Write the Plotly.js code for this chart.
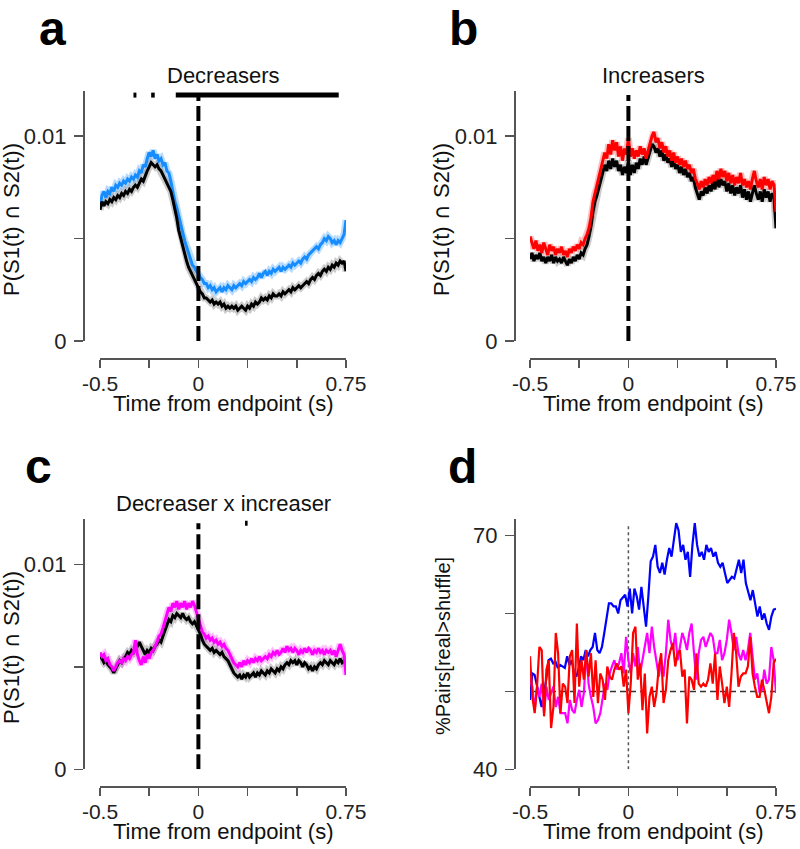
<!DOCTYPE html>
<html>
<head>
<meta charset="utf-8">
<script src="https://cdn.plot.ly/plotly-3.0.1.min.js"></script>
<style>
  body { margin: 0; background: #fff; }
  #fig { width: 800px; height: 849px; }
</style>
</head>
<body>
<div id="fig"></div>
<script>

/////////////////////   Data   /////////////////////

// panel a : decreasers, real (blue) vs shuffle (black)
var blueA = [0.0066,0.0071,0.0073,0.0070,0.0073,0.0072,0.0075,0.0073,0.0076,0.0075,
  0.0077,0.0076,0.0078,0.0077,0.0079,0.0078,0.0080,0.0079,0.0081,0.0080,
  0.0083,0.0082,0.0086,0.0085,0.0089,0.0092,0.0090,0.0093,0.0089,0.0091,
  0.0088,0.0089,0.0086,0.0087,0.0083,0.0082,0.0078,0.0073,0.0068,0.0065,
  0.0061,0.0057,0.0052,0.0049,0.0046,0.0043,0.0040,0.0037,0.0036,0.0034,
  0.0033,0.0031,0.0030,0.0028,0.0028,0.0026,0.0027,0.0025,0.0026,0.0024,
  0.0025,0.0026,0.0024,0.0026,0.0025,0.0027,0.0026,0.0025,0.0027,0.0026,
  0.0027,0.0028,0.0027,0.0029,0.0028,0.0029,0.0030,0.0029,0.0031,0.0030,
  0.0031,0.0033,0.0031,0.0033,0.0034,0.0032,0.0034,0.0033,0.0035,0.0034,
  0.0035,0.0036,0.0034,0.0036,0.0035,0.0036,0.0037,0.0036,0.0038,0.0037,
  0.0038,0.0039,0.0038,0.0040,0.0041,0.0040,0.0042,0.0043,0.0044,0.0045,
  0.0046,0.0045,0.0047,0.0048,0.0050,0.0049,0.0051,0.0050,0.0048,0.0049,
  0.0047,0.0049,0.0048,0.0050,0.0052,0.0059];
var blackA = [0.0064,0.0068,0.0066,0.0068,0.0067,0.0069,0.0068,0.0070,0.0069,0.0071,
  0.0070,0.0072,0.0071,0.0073,0.0072,0.0074,0.0073,0.0075,0.0076,0.0075,
  0.0077,0.0079,0.0078,0.0081,0.0083,0.0085,0.0087,0.0086,0.0085,0.0086,
  0.0084,0.0083,0.0081,0.0079,0.0077,0.0075,0.0073,0.0069,0.0065,0.0060,
  0.0054,0.0050,0.0046,0.0042,0.0039,0.0036,0.0034,0.0032,0.0030,0.0028,
  0.0026,0.0024,0.0023,0.0021,0.0021,0.0020,0.0019,0.0020,0.0018,0.0019,
  0.0018,0.0019,0.0017,0.0018,0.0016,0.0017,0.0016,0.0017,0.0016,0.0017,
  0.0015,0.0016,0.0017,0.0016,0.0015,0.0017,0.0016,0.0018,0.0017,0.0019,
  0.0018,0.0019,0.0021,0.0020,0.0021,0.0020,0.0022,0.0021,0.0023,0.0022,
  0.0022,0.0023,0.0022,0.0024,0.0023,0.0024,0.0025,0.0024,0.0026,0.0025,
  0.0026,0.0027,0.0026,0.0027,0.0028,0.0029,0.0028,0.0030,0.0031,0.0030,
  0.0032,0.0033,0.0032,0.0034,0.0035,0.0034,0.0036,0.0035,0.0037,0.0036,
  0.0038,0.0037,0.0039,0.0038,0.0039,0.0034];

// panel b : increasers
var redB = [0.0051,0.0048,0.0045,0.0049,0.0044,0.0047,0.0043,0.0048,0.0045,0.0042,
  0.0047,0.0044,0.0046,0.0042,0.0045,0.0043,0.0046,0.0042,0.0044,0.0041,
  0.0045,0.0043,0.0046,0.0044,0.0047,0.0045,0.0048,0.0047,0.0050,0.0052,
  0.0055,0.0060,0.0068,0.0072,0.0075,0.0079,0.0083,0.0087,0.0092,0.0089,
  0.0096,0.0091,0.0098,0.0093,0.0097,0.0090,0.0095,0.0088,0.0094,0.0091,
  0.0099,0.0090,0.0094,0.0089,0.0093,0.0090,0.0095,0.0091,0.0094,0.0089,
  0.0093,0.0097,0.0100,0.0102,0.0097,0.0099,0.0094,0.0097,0.0092,0.0095,
  0.0090,0.0093,0.0088,0.0092,0.0087,0.0090,0.0086,0.0089,0.0085,0.0088,
  0.0084,0.0086,0.0082,0.0084,0.0079,0.0077,0.0074,0.0078,0.0075,0.0079,
  0.0076,0.0080,0.0077,0.0081,0.0078,0.0083,0.0079,0.0084,0.0080,0.0083,
  0.0078,0.0082,0.0077,0.0081,0.0076,0.0080,0.0077,0.0082,0.0076,0.0079,
  0.0075,0.0078,0.0074,0.0079,0.0083,0.0078,0.0075,0.0079,0.0074,0.0080,
  0.0076,0.0079,0.0074,0.0078,0.0076,0.0063];
var blackB = [0.0040,0.0043,0.0039,0.0042,0.0040,0.0043,0.0039,0.0041,0.0038,0.0041,
  0.0039,0.0042,0.0038,0.0041,0.0039,0.0040,0.0038,0.0041,0.0039,0.0037,
  0.0040,0.0038,0.0041,0.0039,0.0042,0.0040,0.0043,0.0042,0.0045,0.0047,
  0.0051,0.0056,0.0063,0.0068,0.0071,0.0075,0.0078,0.0082,0.0086,0.0083,
  0.0088,0.0084,0.0089,0.0085,0.0088,0.0083,0.0086,0.0081,0.0085,0.0082,
  0.0088,0.0081,0.0086,0.0082,0.0087,0.0084,0.0089,0.0086,0.0090,0.0086,
  0.0089,0.0093,0.0096,0.0095,0.0092,0.0094,0.0090,0.0093,0.0088,0.0091,
  0.0087,0.0089,0.0085,0.0088,0.0084,0.0086,0.0082,0.0085,0.0081,0.0084,
  0.0080,0.0082,0.0078,0.0080,0.0075,0.0072,0.0069,0.0073,0.0071,0.0075,
  0.0072,0.0076,0.0073,0.0078,0.0074,0.0080,0.0075,0.0079,0.0076,0.0078,
  0.0073,0.0077,0.0072,0.0076,0.0071,0.0075,0.0072,0.0076,0.0070,0.0074,
  0.0069,0.0073,0.0068,0.0072,0.0076,0.0072,0.0069,0.0073,0.0068,0.0074,
  0.0070,0.0073,0.0068,0.0072,0.0070,0.0055];

// panel c : decreaser x increaser
var magentaC = [0.0057,0.0055,0.0056,0.0053,0.0054,0.0051,0.0050,0.0048,0.0050,0.0052,
  0.0053,0.0052,0.0054,0.0053,0.0055,0.0054,0.0056,0.0057,0.0063,0.0056,
  0.0053,0.0051,0.0055,0.0052,0.0056,0.0054,0.0057,0.0058,0.0060,0.0062,
  0.0065,0.0066,0.0069,0.0072,0.0076,0.0079,0.0077,0.0081,0.0079,0.0082,
  0.0078,0.0081,0.0079,0.0082,0.0078,0.0081,0.0079,0.0082,0.0080,0.0077,
  0.0074,0.0070,0.0067,0.0066,0.0064,0.0065,0.0063,0.0064,0.0062,0.0063,
  0.0061,0.0062,0.0060,0.0061,0.0059,0.0058,0.0056,0.0054,0.0052,0.0051,
  0.0050,0.0052,0.0050,0.0053,0.0051,0.0053,0.0052,0.0054,0.0052,0.0054,
  0.0053,0.0055,0.0053,0.0054,0.0055,0.0054,0.0056,0.0055,0.0057,0.0056,
  0.0058,0.0056,0.0057,0.0059,0.0057,0.0060,0.0058,0.0059,0.0057,0.0059,
  0.0058,0.0056,0.0058,0.0057,0.0059,0.0057,0.0059,0.0058,0.0056,0.0058,
  0.0057,0.0059,0.0057,0.0058,0.0056,0.0058,0.0057,0.0058,0.0056,0.0058,
  0.0055,0.0058,0.0061,0.0058,0.0056,0.0046];
var blackC = [0.0055,0.0054,0.0052,0.0053,0.0051,0.0050,0.0049,0.0047,0.0049,0.0051,
  0.0053,0.0052,0.0054,0.0055,0.0057,0.0056,0.0058,0.0057,0.0059,0.0060,
  0.0062,0.0060,0.0058,0.0056,0.0058,0.0057,0.0059,0.0058,0.0060,0.0061,
  0.0063,0.0062,0.0065,0.0068,0.0071,0.0073,0.0072,0.0075,0.0074,0.0076,
  0.0075,0.0074,0.0076,0.0074,0.0073,0.0074,0.0072,0.0071,0.0072,0.0070,
  0.0068,0.0066,0.0063,0.0061,0.0060,0.0059,0.0058,0.0059,0.0057,0.0058,
  0.0057,0.0056,0.0057,0.0055,0.0054,0.0053,0.0051,0.0049,0.0047,0.0046,
  0.0045,0.0046,0.0044,0.0046,0.0045,0.0047,0.0045,0.0046,0.0047,0.0045,
  0.0047,0.0046,0.0048,0.0047,0.0046,0.0048,0.0047,0.0049,0.0048,0.0047,
  0.0049,0.0048,0.0050,0.0049,0.0051,0.0052,0.0051,0.0053,0.0052,0.0053,
  0.0051,0.0053,0.0052,0.0050,0.0052,0.0051,0.0049,0.0050,0.0048,0.0050,
  0.0049,0.0051,0.0052,0.0051,0.0053,0.0052,0.0051,0.0053,0.0052,0.0051,
  0.0053,0.0052,0.0054,0.0052,0.0053,0.0051];

// panel d : %pairs real > shuffle
var blueD = [48.9,52.3,52.1,50.6,49.3,48.0,49.8,51.5,54.0,54.2,
  53.6,53.8,53.0,53.4,53.2,53.0,54.5,53.4,54.0,52.3,
  51.9,53.0,54.5,54.0,55.3,54.5,55.3,55.7,57.5,55.3,
  54.9,55.7,57.5,59.2,61.3,61.3,60.9,60.9,60.0,61.7,
  62.0,62.4,60.9,63.2,60.0,63.2,62.2,60.5,63.4,60.9,
  58.3,62.2,66.7,67.3,68.8,66.0,65.2,66.5,65.0,66.9,
  68.4,67.3,69.5,71.6,70.7,67.9,68.8,66.9,67.9,64.7,
  68.8,71.6,68.8,67.3,67.9,66.9,68.8,67.9,68.4,67.3,
  67.9,66.5,66.0,66.5,65.2,63.9,64.3,64.7,64.5,65.6,
  66.9,65.2,66.9,63.9,62.6,61.7,63.0,61.3,59.6,60.9,
  59.2,60.0,58.7,57.9,59.6,60.5,60.6];
var redD = [54.5,49.3,47.2,50.6,55.7,55.3,46.8,52.8,54.0,45.3,
  48.0,57.5,54.9,47.2,51.0,50.6,48.5,54.5,55.3,48.5,
  58.7,50.6,54.0,51.5,55.3,51.9,54.9,49.3,54.0,48.5,
  52.3,51.5,48.9,53.2,51.9,51.5,52.8,53.6,52.8,53.2,
  50.6,52.8,47.2,51.0,57.5,58.3,51.5,53.6,47.6,52.3,
  44.6,49.3,50.6,48.0,49.8,53.2,54.9,48.5,50.2,54.0,
  55.3,56.2,53.2,54.9,55.3,51.9,52.8,45.9,51.9,51.5,
  50.2,54.9,51.0,50.6,51.0,50.6,51.5,53.6,51.0,54.9,
  48.9,53.2,51.0,48.5,50.6,48.0,52.3,57.5,54.9,50.6,
  51.9,52.3,52.3,53.2,57.0,52.3,50.6,49.3,49.3,51.5,
  50.2,48.9,47.2,49.3,53.6,54.2];
var magentaD = [51.7,50.6,47.6,50.6,49.3,51.0,47.2,50.6,48.9,49.8,
  50.6,48.0,49.3,47.2,47.2,47.2,45.9,48.9,47.6,47.2,
  48.9,50.2,48.0,49.8,55.3,51.0,49.3,48.0,45.9,46.3,
  47.2,49.3,51.0,50.2,52.3,53.2,54.0,52.8,53.6,54.9,
  52.3,57.0,54.0,52.3,54.9,53.2,55.7,52.3,54.0,55.3,
  57.5,54.9,58.3,55.7,54.0,51.9,54.0,51.9,54.9,59.2,
  56.6,55.3,57.5,54.0,55.7,57.5,56.6,55.3,57.5,58.7,
  54.9,51.5,54.9,56.6,57.0,55.7,56.6,57.5,57.0,54.9,
  54.9,56.6,54.0,54.9,56.6,59.2,57.5,55.3,57.0,54.9,
  54.0,55.3,54.0,55.3,57.5,54.9,51.5,52.3,49.8,50.2,
  52.8,51.0,51.5,55.7,54.0,49.8];

// significance intervals (s) drawn above panels a and c
var sigA = [[-0.33, -0.315], [-0.24, -0.222], [-0.115, 0.713]];
var sigC = [[0.237, 0.250]];
var sigLevel = 0.012;
var endpointY = [0, 0.012];     // dashed marker at t = 0
var endpointYd = [40, 71.5];
var chanceLevel = 50;

// ticks
var tStart = -0.5, tEnd = 0.75;
var xTickVals = [-0.5, -0.25, 0, 0.25, 0.5, 0.75];
var xTickText = ['-0.5', '', '0', '', '', '0.75'];
var pTickVals = [0, 0.005, 0.01];
var pTickText = ['0', '', '0.01'];
var dTickVals = [40, 50, 60, 70];
var dTickText = ['40', '', '', '70'];

//////////////////////////////////////////////////////////////

// evenly sampled time axis for a series of n bins
function timeAxis(n){
  var t = [];
  for(var i = 0; i < n; i++){
    t.push(tStart + (tEnd - tStart) * i / (n - 1));
  }
  return t;
}

function segments(list, level){
  var xs = [], ys = [];
  list.forEach(function(s){
    xs.push(s[0], s[1], null);
    ys.push(level, level, null);
  });
  return {x: xs, y: ys};
}

var FONT = 'Liberation Sans, Arial, Helvetica, sans-serif';
var AX = '#555555';

// pixel -> paper helpers (figure is 800 x 849)
function px(x){ return x / 800; }
function py(y){ return 1 - y / 849; }

function curve(y, color, width, xa, ya){
  return {x: timeAxis(y.length), y: y, xaxis: xa, yaxis: ya, mode: 'lines',
          line: {color: color, width: width}, hoverinfo: 'skip', type: 'scatter'};
}
function vline(yy, dash, width, color, xa, ya){
  return {x: [0, 0], y: yy, xaxis: xa, yaxis: ya, mode: 'lines',
          line: {color: color, width: width, dash: dash}, hoverinfo: 'skip', type: 'scatter'};
}

var sA = segments(sigA, sigLevel);
var sC = segments(sigC, sigLevel);

var data = [
  // a
  curve(blueA, 'rgba(20,140,255,0.30)', 7, 'x', 'y'),
  curve(blackA, 'rgba(110,110,110,0.35)', 7, 'x', 'y'),
  curve(blueA, '#168cff', 3, 'x', 'y'),
  curve(blackA, '#000000', 3, 'x', 'y'),
  vline(endpointY, '15px,5px', 4, '#000', 'x', 'y'),
  {x: sA.x, y: sA.y, xaxis: 'x', yaxis: 'y', mode: 'lines', line: {color: '#000', width: 5}, type: 'scatter'},
  // b
  curve(redB, 'rgba(255,0,0,0.25)', 7, 'x2', 'y2'),
  curve(blackB, 'rgba(110,110,110,0.35)', 7, 'x2', 'y2'),
  curve(blackB, '#000000', 3, 'x2', 'y2'),
  curve(redB, '#ff0000', 3, 'x2', 'y2'),
  vline(endpointY, '15px,5px', 4, '#000', 'x2', 'y2'),
  // c
  curve(magentaC, 'rgba(255,0,255,0.25)', 7, 'x3', 'y3'),
  curve(blackC, 'rgba(110,110,110,0.35)', 7, 'x3', 'y3'),
  curve(blackC, '#000000', 3, 'x3', 'y3'),
  curve(magentaC, '#ff00ff', 3, 'x3', 'y3'),
  vline(endpointY, '15px,5px', 4, '#000', 'x3', 'y3'),
  {x: sC.x, y: sC.y, xaxis: 'x3', yaxis: 'y3', mode: 'lines', line: {color: '#000', width: 5}, type: 'scatter'},
  // d
  {x: [tStart, tEnd], y: [chanceLevel, chanceLevel], xaxis: 'x4', yaxis: 'y4', mode: 'lines',
   line: {color: '#333', width: 1.5, dash: '6px,4px'}, type: 'scatter'},
  vline(endpointYd, 'dot', 1.5, '#555', 'x4', 'y4'),
  curve(blueD, '#0000ff', 2.2, 'x4', 'y4'),
  curve(magentaD, '#ff00ff', 2.2, 'x4', 'y4'),
  curve(redD, '#ff0000', 2.2, 'x4', 'y4')
];

function xAxis(dom, pos){
  return {domain: dom, range: [tStart, tEnd], anchor: 'free', position: pos,
          showline: true, linecolor: AX, linewidth: 1.5,
          ticks: 'outside', ticklen: 8, tickwidth: 1.5, tickcolor: AX,
          tickvals: xTickVals, ticktext: xTickText, ticklabelstandoff: -2,
          tickfont: {family: FONT, size: 21, color: '#222'},
          showgrid: false, zeroline: false, fixedrange: true};
}
function yAxis(dom, pos, rng, vals, text){
  return {domain: dom, range: rng, anchor: 'free', position: pos,
          showline: true, linecolor: AX, linewidth: 1.5,
          ticks: 'outside', ticklen: 9, tickwidth: 1.5, tickcolor: AX,
          tickvals: vals, ticktext: text, ticklabelstandoff: 3,
          tickfont: {family: FONT, size: 22, color: '#222'},
          showgrid: false, zeroline: false, fixedrange: true};
}

var leftX = [px(100), px(346)], rightX = [px(530), px(776)];
var topY = [py(341), py(91)], botY = [py(769.3), py(519.2)];

function note(text, x, y, size, angle){
  return {text: text, x: px(x), y: py(y), xref: 'paper', yref: 'paper',
          showarrow: false, xanchor: 'center', yanchor: 'middle', textangle: angle || 0,
          font: {family: FONT, size: size, color: '#111'}};
}
function letter(text, x, top){
  return {text: '<b>' + text + '</b>', x: px(x), y: py(top), xref: 'paper', yref: 'paper',
          showarrow: false, xanchor: 'center', yanchor: 'top',
          font: {family: FONT, size: 48, color: '#000'}};
}

var yTitle = 'P(S1(t) <span style="font-family:DejaVu Sans">\u2229</span> S2(t))';
var xTitle = 'Time from endpoint (s)';

var layout = {
  width: 800,
  height: 849,
  margin: {l: 0, r: 0, t: 0, b: 0},
  paper_bgcolor: '#fff',
  plot_bgcolor: 'rgba(0,0,0,0)',
  showlegend: false,
  font: {family: FONT, size: 22, color: '#111'},
  xaxis:  xAxis(leftX, py(358)),
  yaxis:  yAxis(topY, px(83), [0, 0.0122], pTickVals, pTickText),
  xaxis2: xAxis(rightX, py(358)),
  yaxis2: yAxis(topY, px(514), [0, 0.0122], pTickVals, pTickText),
  xaxis3: xAxis(leftX, py(786)),
  yaxis3: yAxis(botY, px(83), [0, 0.0122], pTickVals, pTickText),
  xaxis4: xAxis(rightX, py(786)),
  yaxis4: yAxis(botY, px(514), [40, 72.1], dTickVals, dTickText),
  annotations: [
    letter('a', 52, 0),
    letter('b', 463, 0),
    letter('c', 38, 438),
    letter('d', 462, 438),
    note('Decreasers', 223, 75.4, 22),
    note('Increasers', 653, 75.4, 22),
    note('Decreaser x increaser', 223, 503, 22),
    note(xTitle, 223, 403, 22),
    note(xTitle, 653, 403, 22),
    note(xTitle, 223, 831, 22),
    note(xTitle, 653, 831, 22),
    note(yTitle, 11, 220, 22, -90),
    note(yTitle, 441, 220, 22, -90),
    note(yTitle, 11, 648, 22, -90),
    note('%Pairs[real>shuffle]', 443, 646, 20, -90)
  ]
};

Plotly.newPlot('fig', data, layout, {displayModeBar: false, staticPlot: true});
</script>
</body>
</html>
